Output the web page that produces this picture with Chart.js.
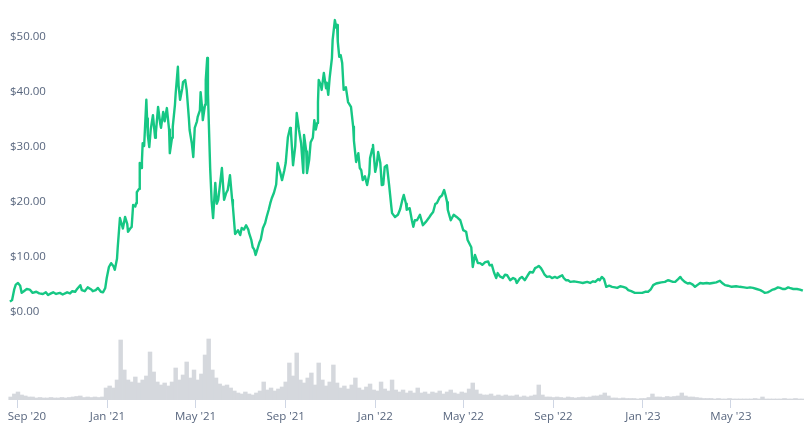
<!DOCTYPE html>
<html lang="en">
<head>
<meta charset="UTF-8">
<title>Price chart</title>
<script src="https://cdn.jsdelivr.net/npm/chart.js"></script>
<style>
  html, body { margin: 0; padding: 0; background: #fff; }
  #wrap { width: 810px; height: 432px; position: relative; }
</style>
</head>
<body>
<div id="wrap"><canvas id="priceChart"></canvas></div>
<script>
// x values are days counted from 1 Sep 2020
const priceDays = [
  -11, -8, -5, -3, 0, 3, 5, 8, 12, 16,
  20, 25, 29, 34, 38, 41, 45, 48, 52, 57,
  61, 67, 71, 74, 78, 80, 85, 87, 91, 95,
  100, 102, 106, 109, 113, 116, 119, 121, 124, 127,
  130, 132, 135, 136, 139, 142, 143, 146, 149, 150,
  153, 155, 157, 160, 161, 162, 165, 166, 168, 169,
  170, 172, 175, 176, 177, 179, 181, 184, 187, 188,
  191, 194, 195, 198, 200, 203, 206, 207, 210, 211,
  214, 215, 218, 219, 221, 224, 225, 228, 230, 233,
  234, 237, 239, 241, 244, 245, 248, 249, 251, 252,
  255, 256, 258, 259, 260, 262, 264, 266, 269, 271,
  273, 275, 278, 281, 284, 286, 289, 292, 293, 296,
  299, 300, 303, 305, 308, 311, 314, 315, 318, 320,
  322, 324, 327, 329, 331, 334, 337, 339, 342, 344,
  346, 349, 352, 354, 357, 360, 363, 365, 368, 371,
  372, 375, 378, 380, 383, 386, 389, 390, 393, 394,
  397, 399, 402, 404, 406, 408, 409, 410, 413, 414,
  417, 420, 421, 423, 425, 428, 429, 432, 434, 435,
  436, 438, 440, 442, 444, 447, 450, 454, 457, 458,
  461, 464, 466, 468, 470, 473, 476, 479, 480, 483,
  484, 487, 489, 491, 494, 496, 498, 500, 503, 506,
  509, 510, 514, 518, 521, 524, 526, 529, 530, 534,
  537, 539, 541, 544, 548, 552, 556, 560, 563, 566,
  569, 571, 575, 578, 581, 583, 585, 586, 590, 594,
  598, 603, 607, 611, 613, 618, 620, 623, 627, 630,
  633, 637, 641, 643, 646, 649, 652, 654, 657, 661,
  664, 667, 671, 675, 678, 680, 684, 687, 691, 695,
  698, 702, 705, 708, 710, 713, 716, 718, 721, 725,
  728, 732, 735, 739, 742, 744, 747, 750, 753, 758,
  762, 766, 770, 776, 780, 784, 787, 791, 793, 796,
  799, 802, 806, 810, 814, 817, 821, 825, 829, 832,
  836, 841, 847, 851, 855, 859, 863, 866, 870, 873,
  877, 882, 886, 889, 893, 896, 900, 903, 905, 909,
  913, 916, 920, 923, 927, 930, 934, 939, 943, 947,
  952, 957, 961, 964, 968, 973, 979, 984, 990, 994,
  998, 1002, 1007, 1012, 1016, 1018, 1022, 1025, 1029, 1032,
  1036, 1039, 1043, 1046, 1050, 1052, 1057, 1062, 1066, 1070
];

// price in USD
const prices = [
  1.7, 2.0, 4.0, 4.8, 5.1, 4.6, 3.3, 3.6, 4.0, 3.9,
  3.3, 3.5, 3.2, 3.1, 3.4, 2.9, 3.2, 3.4, 3.1, 3.3,
  3.0, 3.4, 3.2, 3.6, 3.5, 3.9, 4.7, 3.8, 3.6, 4.3,
  3.9, 3.6, 3.8, 4.2, 3.5, 3.4, 4.2, 6.0, 8.0, 8.7,
  8.2, 7.5, 9.5, 11.6, 16.9, 15.5, 15.0, 17.1, 15.8, 14.4,
  15.0, 15.3, 19.3, 19.0, 19.6, 21.6, 22.2, 26.9, 26.0, 27.3,
  30.5, 30.0, 38.4, 35.0, 32.0, 29.8, 33.0, 35.6, 31.5, 32.4,
  37.1, 34.0, 33.3, 36.2, 34.5, 36.9, 33.0, 28.7, 31.5, 33.5,
  37.5, 39.6, 44.4, 41.0, 38.4, 40.5, 41.6, 42.0, 40.2, 35.0,
  32.9, 30.5, 28.0, 33.3, 34.5, 35.3, 36.5, 39.8, 37.0, 34.7,
  37.5, 42.0, 46.0, 39.6, 35.0, 26.0, 20.0, 16.9, 23.3, 19.5,
  20.2, 22.5, 26.0, 20.2, 21.5, 22.0, 24.7, 20.2, 19.0, 14.0,
  14.5, 14.7, 13.8, 15.1, 14.8, 15.6, 14.8, 14.2, 13.0, 11.6,
  11.2, 10.2, 11.5, 12.4, 13.0, 15.1, 16.0, 17.1, 18.5, 19.6,
  20.5, 21.5, 23.0, 26.9, 25.5, 23.8, 25.5, 26.9, 31.6, 33.3,
  32.9, 26.5, 30.0, 36.0, 33.0, 30.5, 25.1, 32.0, 29.0, 25.1,
  27.5, 30.7, 31.5, 34.7, 33.0, 34.2, 38.0, 42.0, 41.0, 40.2,
  43.3, 40.5, 41.5, 39.3, 42.5, 46.0, 49.3, 52.9, 51.5, 52.0,
  49.0, 46.2, 46.5, 45.1, 40.2, 40.7, 38.0, 37.1, 33.5, 31.0,
  27.1, 28.7, 26.0, 25.6, 23.8, 24.5, 22.9, 25.0, 27.8, 29.5,
  30.2, 25.3, 26.5, 28.9, 26.9, 22.9, 23.0, 26.2, 26.5, 22.9,
  19.0, 17.8, 17.1, 17.5, 18.5, 20.2, 21.1, 19.5, 18.4, 18.7,
  16.5, 15.3, 16.5, 16.5, 17.5, 15.6, 16.2, 16.9, 17.5, 18.0,
  19.5, 19.6, 20.7, 21.0, 22.0, 21.0, 19.8, 18.4, 16.5, 17.5,
  17.1, 16.5, 14.7, 14.4, 12.9, 11.6, 8.0, 10.2, 8.7, 8.7,
  8.4, 8.9, 9.0, 8.3, 8.4, 7.0, 6.0, 6.9, 6.3, 6.0,
  6.6, 6.5, 5.6, 6.0, 5.8, 5.1, 5.9, 6.2, 5.6, 6.5,
  7.1, 7.0, 7.8, 8.0, 8.2, 7.8, 7.1, 6.6, 6.2, 6.3,
  6.0, 6.2, 6.0, 6.3, 6.5, 6.0, 5.6, 5.6, 5.3, 5.4,
  5.3, 5.2, 5.1, 5.3, 5.1, 5.4, 5.3, 5.8, 5.6, 6.2,
  5.8, 4.4, 4.6, 4.4, 4.3, 4.2, 4.5, 4.4, 4.2, 3.8,
  3.6, 3.3, 3.3, 3.3, 3.5, 3.5, 4.0, 4.7, 5.0, 5.1,
  5.2, 5.3, 5.6, 5.5, 5.3, 5.3, 5.8, 6.2, 5.8, 5.3,
  5.0, 5.1, 4.8, 4.4, 4.8, 5.1, 5.0, 5.1, 5.0, 5.1,
  5.2, 5.5, 5.0, 4.7, 4.6, 4.4, 4.5, 4.4, 4.3, 4.2,
  4.3, 4.2, 4.0, 3.8, 3.5, 3.3, 3.4, 3.6, 3.9, 4.0,
  4.3, 4.2, 4.0, 4.0, 4.3, 4.2, 4.0, 4.0, 3.9, 3.7
];

// trading volume (millions USD), one bar every 5 days from day -10
const volStartDay = -10;
const volStepDays = 5;
const volumes = [
  3, 6, 8, 5, 4, 3, 3, 2, 2.5, 2,
  2, 2.5, 2, 2, 2.5, 2, 2.5, 3, 3.5, 4,
  2.5, 3, 2.5, 3, 2.5, 3, 12, 14, 12, 20,
  60, 30, 20, 18, 23, 17, 20, 24, 48, 28,
  18, 15, 17, 14, 18, 32, 20, 25, 38, 22,
  30, 20, 26, 45, 61, 30, 22, 16, 14, 15,
  12, 9, 7, 6, 8, 6, 5, 7, 9, 18,
  10, 12, 9, 11, 13, 18, 37, 24, 47, 20,
  17, 22, 27, 15, 37, 20, 14, 18, 35, 17,
  12, 14, 11, 15, 22, 12, 10, 13, 16, 10,
  9, 18, 11, 9, 20, 10, 8, 10, 7, 9,
  7, 12, 7, 8, 6, 8, 7, 9, 6, 8,
  10, 7, 6, 8, 7, 11, 17, 10, 6, 5,
  5, 6, 4, 5, 4, 5, 4, 4, 5, 3,
  4, 3, 4, 5, 15, 5, 3, 3, 2.5, 3,
  2.5, 2, 3, 2.5, 2, 2.5, 3, 2.5, 3, 4,
  4, 5, 7, 4, 2, 2, 1.5, 2, 1.5, 1.5,
  1.5, 1, 1.5, 1.5, 2.5, 6, 3, 3, 2.5, 3.5,
  3, 3.5, 4, 7, 4, 3, 3, 2.5, 2, 1.5,
  1.5, 1.5, 1, 1.5, 1, 1, 1.5, 1, 1, 1,
  1, 1, 1, 1.5, 1, 3, 1, 1, 1, 1,
  1, 1.5, 1, 1, 1.5, 1, 1
];

const monthDays = [0, 122, 242, 365, 487, 607, 730, 852, 972];
const monthLabels = ["Sep '20", "Jan '21", "May '21", "Sep '21", "Jan '22", "May '22", "Sep '22", "Jan '23", "May '23"];
const priceTicks = [0, 10, 20, 30, 40, 50];

const textColor = '#58667e';
const tickFont = { family: "'Open Sans', sans-serif", size: 11.5 };

const priceData = priceDays.map((d, i) => ({ x: d, y: prices[i] }));
const volumeData = volumes.map((v, i) => ({ x: volStartDay + i * volStepDays, y: v }));

new Chart(document.getElementById('priceChart'), {
  type: 'line',
  data: {
    datasets: [
      {
        type: 'line',
        label: 'Price',
        data: priceData,
        yAxisID: 'y',
        borderColor: '#16c784',
        borderWidth: 2.4,
        pointRadius: 0,
        tension: 0,
        borderJoinStyle: 'round',
        order: 0
      },
      {
        type: 'bar',
        label: 'Volume',
        data: volumeData,
        yAxisID: 'y2',
        backgroundColor: '#d5d8dd',
        barThickness: 3.8,
        order: 1
      }
    ]
  },
  options: {
    responsive: true,
    maintainAspectRatio: false,
    animation: false,
    layout: { padding: { left: 8, right: 6, top: 5, bottom: 0 } },
    plugins: { legend: { display: false }, tooltip: { enabled: false } },
    scales: {
      x: {
        type: 'linear',
        offset: false,
        min: -13.6,
        max: 1071.6,
        afterBuildTicks: s => { s.ticks = monthDays.map(v => ({ value: v })); },
        afterFit: s => { s.height = 32; s.paddingLeft = 0; s.paddingRight = 0; },
        ticks: {
          autoSkip: false,
          maxRotation: 0,
          padding: 2,
          color: textColor,
          font: tickFont,
          // the first label is kept inside the left edge, as in the original
          callback: (v, i) => (i === 0 ? '\u00a0'.repeat(6) : '') + monthLabels[i]
        },
        grid: { offset: false, drawOnChartArea: false, tickLength: 8, color: '#cfd6e4' },
        border: { display: false }
      },
      y: {
        position: 'left',
        min: -16.18,
        max: 55.64,
        afterBuildTicks: s => { s.ticks = priceTicks.map(v => ({ value: v })); },
        afterFit: s => { s.width = 0; s.paddingTop = 0; s.paddingBottom = 0; },
        ticks: {
          mirror: true,
          padding: 2,
          labelOffset: 1,
          color: textColor,
          font: tickFont,
          callback: v => '$' + v.toFixed(2)
        },
        grid: { display: false },
        border: { display: false }
      },
      y2: {
        position: 'right',
        display: false,
        min: 0,
        max: 395
      }
    }
  }
});
</script>
</body>
</html>
